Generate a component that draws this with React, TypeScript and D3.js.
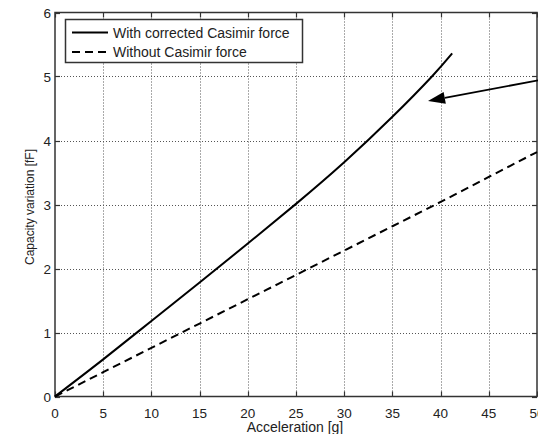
import React, { useEffect, useRef } from "react";
import * as d3 from "d3";

// values
const accelWith = [0, 5, 10, 15, 20, 25, 30, 35, 39.1, 41.2];
const capWith = [0, 0.58, 1.18, 1.78, 2.39, 3.01, 3.66, 4.37, 5.0, 5.36];
const accelWithout = [0, 5, 10, 15, 20, 25, 30, 35, 40, 45, 50];
const capWithout = [0, 0.38, 0.76, 1.14, 1.52, 1.9, 2.28, 2.66, 3.04, 3.43, 3.82];
const xTicks = [0, 5, 10, 15, 20, 25, 30, 35, 40, 45, 50];
const yTicks = [0, 1, 2, 3, 4, 5, 6];
const legendLabels = ["With corrected Casimir force", "Without Casimir force"];

const W = 538;
const H = 434;

const App = () => {
  const svgRef = useRef<SVGSVGElement>(null);

  useEffect(() => {
    const svg = d3.select(svgRef.current);
    svg.selectAll("*").remove();

    const left = 55;
    const right = 537;
    const top = 12.5;
    const bottom = 396.5;

    const x = d3.scaleLinear().domain([0, 50]).range([left, right]);
    const y = d3.scaleLinear().domain([0, 6]).range([bottom, top]);
    const font = "'Liberation Sans', Arial, sans-serif";

    svg.append("rect").attr("width", W).attr("height", H).attr("fill", "#fff");

    // grid
    const grid = svg.append("g").attr("stroke", "#555").attr("stroke-width", 1).attr("stroke-dasharray", "1,2");
    grid
      .selectAll("line.gx")
      .data(xTicks.slice(1, -1))
      .join("line")
      .attr("x1", (d) => Math.round(x(d)) + 0.5)
      .attr("x2", (d) => Math.round(x(d)) + 0.5)
      .attr("y1", top)
      .attr("y2", bottom);
    grid
      .selectAll("line.gy")
      .data(yTicks.slice(1, -1))
      .join("line")
      .attr("y1", (d) => Math.round(y(d)) + 0.5)
      .attr("y2", (d) => Math.round(y(d)) + 0.5)
      .attr("x1", left)
      .attr("x2", right);

    // frame + inner ticks
    svg
      .append("rect")
      .attr("x", left)
      .attr("y", top)
      .attr("width", right - left)
      .attr("height", bottom - top)
      .attr("fill", "none")
      .attr("stroke", "#333")
      .attr("stroke-width", 1.5);

    const tk = svg.append("g").attr("stroke", "#333").attr("stroke-width", 1.2);
    xTicks.forEach((d) => {
      const px = Math.round(x(d)) + 0.5;
      tk.append("line").attr("x1", px).attr("x2", px).attr("y1", bottom).attr("y2", bottom - 5);
      tk.append("line").attr("x1", px).attr("x2", px).attr("y1", top).attr("y2", top + 5);
    });
    yTicks.forEach((d) => {
      const py = Math.round(y(d)) + 0.5;
      tk.append("line").attr("x1", left).attr("x2", left + 5).attr("y1", py).attr("y2", py);
      tk.append("line").attr("x1", right).attr("x2", right - 5).attr("y1", py).attr("y2", py);
    });

    // tick labels
    svg
      .selectAll("text.xt")
      .data(xTicks)
      .join("text")
      .attr("x", (d) => x(d))
      .attr("y", bottom + 21)
      .attr("text-anchor", "middle")
      .style("font-family", font)
      .style("font-size", "13.5px")
      .attr("fill", "#222")
      .text((d) => d);

    svg
      .selectAll("text.yt")
      .data(yTicks)
      .join("text")
      .attr("x", left - 4)
      .attr("y", (d) => y(d) + 5)
      .attr("text-anchor", "end")
      .style("font-family", font)
      .style("font-size", "13.5px")
      .attr("fill", "#222")
      .text((d) => d);

    // axis titles
    svg
      .append("text")
      .attr("x", 295)
      .attr("y", 432)
      .attr("text-anchor", "middle")
      .style("font-family", font)
      .style("font-size", "14px")
      .attr("fill", "#222")
      .text("Acceleration [g]");

    svg
      .append("text")
      .attr("transform", `translate(34, 207) rotate(-90)`)
      .attr("text-anchor", "middle")
      .style("font-family", font)
      .style("font-size", "12px")
      .attr("fill", "#222")
      .text("Capacity variation [fF]");

    // curves
    const line = d3
      .line<[number, number]>()
      .x((d) => x(d[0]))
      .y((d) => y(d[1]))
      .curve(d3.curveNatural);

    const withPts = accelWith.map((a, i) => [a, capWith[i]] as [number, number]);
    const withoutPts = accelWithout.map((a, i) => [a, capWithout[i]] as [number, number]);

    svg
      .append("path")
      .attr("d", line(withoutPts))
      .attr("fill", "none")
      .attr("stroke", "#000")
      .attr("stroke-width", 2)
      .attr("stroke-dasharray", "8,5");

    svg
      .append("path")
      .attr("d", line(withPts))
      .attr("fill", "none")
      .attr("stroke", "#000")
      .attr("stroke-width", 2);

    // arrow annotation
    const tipX = 428;
    const tipY = 101;
    const tailX = 540;
    const tailY = 80;
    const ang = Math.atan2(tipY - tailY, tipX - tailX);
    const hl = 17;
    const hw = 6;
    const bx = tipX - hl * Math.cos(ang);
    const by = tipY - hl * Math.sin(ang);
    svg
      .append("line")
      .attr("x1", tailX)
      .attr("y1", tailY)
      .attr("x2", bx)
      .attr("y2", by)
      .attr("stroke", "#000")
      .attr("stroke-width", 1.8);
    svg
      .append("polygon")
      .attr(
        "points",
        [
          [tipX, tipY],
          [bx + hw * Math.sin(ang), by - hw * Math.cos(ang)],
          [bx - hw * Math.sin(ang), by + hw * Math.cos(ang)],
        ]
          .map((p) => p.join(","))
          .join(" ")
      )
      .attr("fill", "#000");

    // legend
    const lg = svg.append("g");
    lg.append("rect")
      .attr("x", 65.5)
      .attr("y", 19.5)
      .attr("width", 237)
      .attr("height", 43)
      .attr("fill", "#fff")
      .attr("stroke", "#333")
      .attr("stroke-width", 1.5);
    legendLabels.forEach((label, i) => {
      const ly = 32.5 + i * 19.5;
      lg.append("line")
        .attr("x1", 72)
        .attr("x2", 108)
        .attr("y1", ly)
        .attr("y2", ly)
        .attr("stroke", "#000")
        .attr("stroke-width", 2)
        .attr("stroke-dasharray", i === 1 ? "8,5" : null);
      lg.append("text")
        .attr("x", 113)
        .attr("y", ly + 5)
        .style("font-family", font)
        .style("font-size", "14px")
        .attr("fill", "#222")
        .text(label);
    });
  }, []);

  return (
    <svg
      ref={svgRef}
      width={W}
      height={H}
      style={{ position: "absolute", left: 0, top: 0, display: "block" }}
    />
  );
};

export default App;
